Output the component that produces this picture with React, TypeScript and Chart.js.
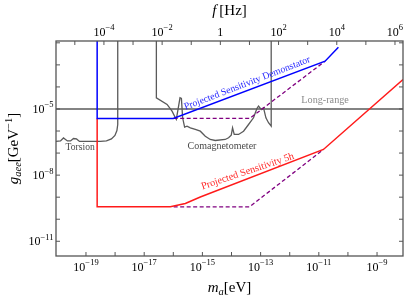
import React, { useEffect, useRef } from "react";
import { Chart, registerables } from "chart.js";

Chart.register(...registerables);

// Planck constant in eV*s (mass -> frequency for the top axis)
const H_EV_S = 4.135667e-15;

// axis ranges
const X_MIN = 9.33e-21;
const X_MAX = 7.8e-9;
const Y_MIN = 2.15e-12;
const Y_MAX = 1.21e-2;

// tick positions and labelled exponents
const xTicks = [1e-20, 1e-19, 1e-18, 1e-17, 1e-16, 1e-15, 1e-14, 1e-13, 1e-12, 1e-11, 1e-10, 1e-9];
const xLabelExps = [-19, -17, -15, -13, -11, -9];
const fTicks = [1e-5, 1e-4, 1e-3, 1e-2, 1e-1, 1, 1e1, 1e2, 1e3, 1e4, 1e5, 1e6];
const fLabelExps = [-4, -2, 0, 2, 4, 6];
const yTicks = [1e-11, 1e-10, 1e-9, 1e-8, 1e-7, 1e-6, 1e-5, 1e-4, 1e-3, 1e-2];
const yLabelExps = [-11, -8, -5];

// Projected sensitivity demonstrator (blue)
const demoM = [2.42e-19, 2.42e-19, 1.0e-16, 1.64e-11, 4.71e-11];
const demoG = [1e-1, 3.71e-6, 3.71e-6, 1.47e-3, 6.35e-3];

// Projected sensitivity 5h (red)
const fiveM = [2.42e-19, 2.42e-19, 7.92e-17, 2.59e-16, 8.47e-16, 1.44e-11, 7.8e-9];
const fiveG = [3.71e-6, 3.67e-10, 3.67e-10, 5.18e-10, 1.02e-9, 1.46e-7, 2.18e-4];

// purple dashed (upper / lower)
const dashUpM = [1.03e-16, 4.2e-14, 1.64e-11];
const dashUpG = [3.71e-6, 3.71e-6, 1.47e-3];
const dashLoM = [1.03e-16, 4.2e-14, 1.44e-11];
const dashLoG = [3.67e-10, 3.67e-10, 1.46e-7];

// Long-range bound
const longM = [1e-21, 1e-7];
const longG = [1e-5, 1e-5];

// Torsion bound
const torsionM = [8e-21, 1.33e-20, 1.69e-20, 1.98e-20, 2.32e-20, 2.94e-20, 3.72e-20, 4.72e-20, 5.98e-20,
  3.14e-19, 5.05e-19, 7.48e-19, 9.89e-19, 1.156e-18, 1.233e-18, 1.233e-18];
const torsionG = [3.36e-7, 3.54e-7, 4.84e-7, 4.14e-7, 3.54e-7, 3.54e-7, 4.59e-7, 4.36e-7, 3.36e-7,
  3.36e-7, 3.54e-7, 4.36e-7, 6.28e-7, 1.06e-6, 1.98e-6, 1e-1];

// Comagnetometer bound
const comagM = [2.62e-17, 2.62e-17, 6.11e-17, 9.06e-17, 1.175e-16, 1.27e-16, 1.70e-16, 1.90e-16, 2.09e-16,
  2.45e-16, 2.96e-16, 3.85e-16, 5.70e-16, 8.47e-16, 1.256e-15, 1.86e-15, 2.76e-15, 6.08e-15, 7.93e-15,
  9.79e-15, 1.086e-14, 1.24e-14, 1.75e-14, 2.59e-14, 3.85e-14, 5.70e-14, 7.46e-14, 8.47e-14, 1.05e-13,
  1.26e-13, 1.52e-13, 1.87e-13, 2.31e-13, 2.31e-13];
const comagG = [1e-1, 3.22e-5, 1.60e-5, 7.94e-6, 3.99e-6, 3.34e-6, 3.22e-5, 2.99e-5, 3.99e-6,
  1.50e-6, 1.66e-6, 1.40e-6, 1.175e-6, 9.84e-7, 5.83e-7, 4.14e-7, 3.72e-7, 4.14e-7, 4.94e-7,
  6.49e-7, 1.40e-6, 6.98e-7, 6.98e-7, 9.84e-7, 1.98e-6, 3.99e-6, 1.054e-5, 1.34e-5, 9.48e-6,
  1.13e-5, 3.99e-6, 2.37e-6, 1.66e-6, 1e-1];

// text annotations: [text, m, g, rotation deg, color, font px]
const annotations: [string, number, number, number, string, number][] = [
  ["Projected Sensitivity Demonstator", 3.47e-14, 1.45e-4, -21, "#2a2aff", 9.8],
  ["Projected Sensitivity 5h", 3.6e-14, 1.47e-8, -18.5, "#ff2a2a", 10.2],
  ["Long-range", 1.64e-11, 2.51e-5, 0, "#8a8a8a", 10.2],
  ["Torsion", 6.3e-20, 1.85e-7, 0, "#4a4a4a", 9.6],
  ["Comagnetometer", 4.7e-15, 2.06e-7, 0, "#4a4a4a", 10],
];

const pts = (xs: number[], ys: number[]) => xs.map((x, i) => ({ x, y: ys[i] }));

const SERIF = '"Liberation Serif", "DejaVu Serif", serif';
const FRAME = "#555555";

function drawParts(ctx: CanvasRenderingContext2D, parts: { t: string; f: string; dy: number }[], x: number, y: number, align: "center" | "right") {
  let total = 0;
  const widths = parts.map((p) => {
    ctx.font = p.f;
    const w = ctx.measureText(p.t).width;
    total += w;
    return w;
  });
  let left = align === "center" ? x - total / 2 : x - total;
  ctx.textAlign = "left";
  ctx.textBaseline = "alphabetic";
  parts.forEach((p, i) => {
    ctx.font = p.f;
    ctx.fillText(p.t, left, y + p.dy);
    left += widths[i];
  });
}

function powParts(exp: number) {
  if (exp === 0) return [{ t: "1", f: `12px ${SERIF}`, dy: 0 }];
  const s = exp < 0 ? "\u2212" + String(-exp) : String(exp);
  return [
    { t: "10", f: `12px ${SERIF}`, dy: 0 },
    { t: s, f: `8.5px ${SERIF}`, dy: -5.5 },
  ];
}

const decor = {
  id: "decor",
  afterDatasetsDraw(chart: any) {
    const ctx: CanvasRenderingContext2D = chart.ctx;
    const { left, right, top, bottom } = chart.chartArea;
    const sx = chart.scales.x;
    const sx2 = chart.scales.x2;
    const sy = chart.scales.y;
    ctx.save();

    // annotation texts
    annotations.forEach(([text, m, g, rot, color, size]) => {
      const px = sx.getPixelForValue(m);
      const py = sy.getPixelForValue(g);
      ctx.save();
      ctx.translate(px, py);
      ctx.rotate((rot * Math.PI) / 180);
      ctx.fillStyle = color;
      ctx.font = `${size}px ${SERIF}`;
      ctx.textAlign = "center";
      ctx.textBaseline = "middle";
      ctx.fillText(text, 0, 0);
      ctx.restore();
    });

    // frame
    ctx.strokeStyle = FRAME;
    ctx.lineWidth = 1.3;
    ctx.strokeRect(left, top, right - left, bottom - top);

    // inward ticks
    ctx.lineWidth = 1;
    const TL = 4;
    ctx.beginPath();
    xTicks.forEach((v) => {
      const p = sx.getPixelForValue(v);
      if (p < left + 1 || p > right - 1) return;
      ctx.moveTo(p, bottom);
      ctx.lineTo(p, bottom - TL);
    });
    fTicks.forEach((v) => {
      const p = sx2.getPixelForValue(v);
      if (p < left + 1 || p > right - 1) return;
      ctx.moveTo(p, top);
      ctx.lineTo(p, top + TL);
    });
    yTicks.forEach((v) => {
      const p = sy.getPixelForValue(v);
      if (p < top + 1 || p > bottom - 1) return;
      ctx.moveTo(left, p);
      ctx.lineTo(left + TL, p);
      ctx.moveTo(right, p);
      ctx.lineTo(right - TL, p);
    });
    ctx.stroke();

    // tick labels
    ctx.fillStyle = "#000";
    xLabelExps.forEach((e) => {
      const p = sx.getPixelForValue(Math.pow(10, e));
      drawParts(ctx, powParts(e), p, bottom + 14.5, "center");
    });
    fLabelExps.forEach((e) => {
      const p = sx2.getPixelForValue(Math.pow(10, e));
      drawParts(ctx, powParts(e), p, top - 5.5, "center");
    });
    yLabelExps.forEach((e) => {
      const p = sy.getPixelForValue(Math.pow(10, e));
      drawParts(ctx, powParts(e), left - 2.5, p + 4, "right");
    });

    // axis titles
    const cx = (left + right) / 2;
    const cy = (top + bottom) / 2;
    const T = `15px ${SERIF}`;
    const TI = `italic 15px ${SERIF}`;
    const S = `10.5px ${SERIF}`;
    const SI = `italic 10.5px ${SERIF}`;
    drawParts(ctx, [
      { t: "m", f: TI, dy: 0 },
      { t: "a", f: SI, dy: 2.5 },
      { t: "[eV]", f: T, dy: 0 },
    ], cx, 292, "center");
    drawParts(ctx, [
      { t: "f", f: TI, dy: 0 },
      { t: "\u2009[Hz]", f: T, dy: 0 },
    ], cx, 15, "center");
    ctx.save();
    ctx.translate(18, cy);
    ctx.rotate(-Math.PI / 2);
    drawParts(ctx, [
      { t: "g", f: TI, dy: 0 },
      { t: "aee", f: SI, dy: 2.5 },
      { t: "[GeV", f: T, dy: 0 },
      { t: "\u22121", f: S, dy: -6 },
      { t: "]", f: T, dy: 0 },
    ], 0, 0, "center");
    ctx.restore();

    ctx.restore();
  },
};

export default function App() {
  const ref = useRef<HTMLCanvasElement | null>(null);
  useEffect(() => {
    if (!ref.current) return;
    const line = (data: any, color: string, width: number, dash: number[] = []) => ({
      data,
      showLine: true,
      borderColor: color,
      backgroundColor: color,
      borderWidth: width,
      borderDash: dash,
      pointRadius: 0,
      fill: false,
      tension: 0,
    });
    const chart = new Chart(ref.current, {
      type: "scatter",
      data: {
        datasets: [
          line(pts(demoM, demoG), "#0000ff", 1.5),
          line(pts(fiveM, fiveG), "#ff1a1a", 1.5),
          line(pts(dashUpM, dashUpG), "#800080", 1.3, [4, 2.5]),
          line(pts(dashLoM, dashLoG), "#800080", 1.3, [4, 2.5]),
          line(pts(longM, longG), "#5a5a5a", 1.3),
          line(pts(torsionM, torsionG), "#5a5a5a", 1.3),
          line(pts(comagM, comagG), "#5a5a5a", 1.3),
        ] as any,
      },
      options: {
        animation: false,
        responsive: false,
        maintainAspectRatio: false,
        layout: { padding: { left: 56, right: 4, top: 41, bottom: 43 } },
        plugins: { legend: { display: false }, tooltip: { enabled: false } },
        scales: {
          x: { type: "logarithmic", min: X_MIN, max: X_MAX, display: false },
          x2: { type: "logarithmic", position: "top", min: X_MIN / H_EV_S, max: X_MAX / H_EV_S, display: false },
          y: { type: "logarithmic", min: Y_MIN, max: Y_MAX, display: false },
        },
      } as any,
      plugins: [decor],
    });
    return () => chart.destroy();
  }, []);
  return (
    <div style={{ position: "fixed", left: 0, top: 0, width: 407, height: 299, background: "#fff" }}>
      <canvas ref={ref} width={407} height={299} style={{ width: 407, height: 299, display: "block" }} />
    </div>
  );
}
